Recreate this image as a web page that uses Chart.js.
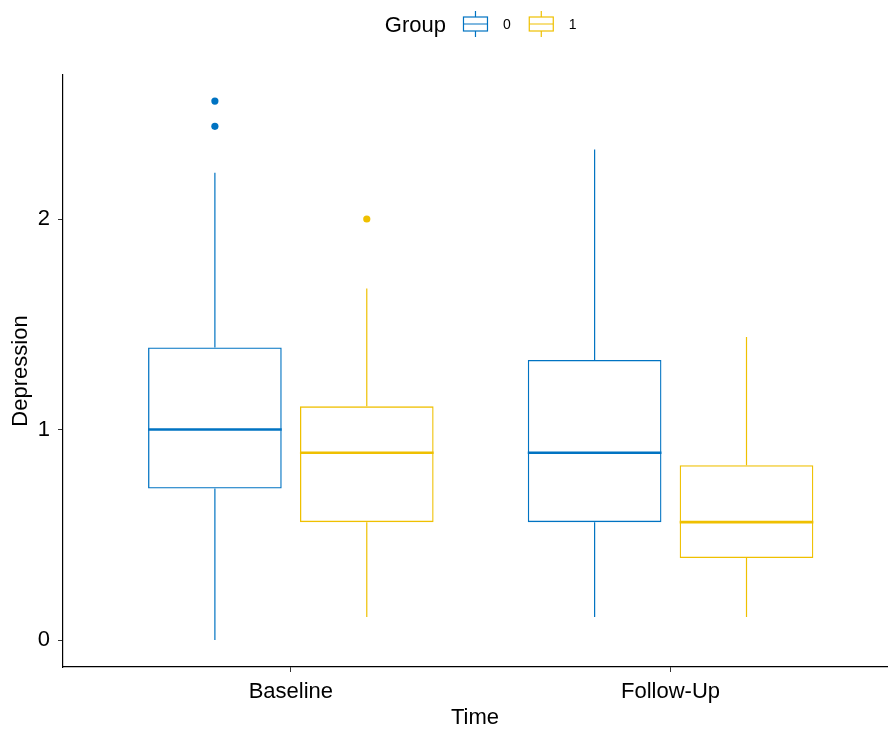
<!DOCTYPE html>
<html>
<head>
<meta charset="utf-8">
<title>Depression by Time and Group</title>
<script src="https://cdn.jsdelivr.net/npm/chart.js@4.4.1/dist/chart.umd.min.js"></script>
<style>
  body { margin: 0; background: #fff; }
  canvas { display: block; }
</style>
</head>
<body>
<canvas id="myChart" width="891" height="729"></canvas>
<script>
// categories on the x axis and their positions (ggplot style discrete positions)
var timeLabels = ['Baseline', 'Follow-Up'];
var timePos = [1, 2];
var yTicks = [0, 1, 2];

var groupNames = ['0', '1'];
var groupColors = ['#0073C2', '#EFC000'];
var groupOffset = [-0.2, 0.2]; // dodge

// box stats per group, one value per time point
var g0Low = [0.00, 0.11];
var g0Q1 = [0.72, 0.56];
var g0Median = [1.00, 0.89];
var g0Q3 = [1.39, 1.33];
var g0High = [2.22, 2.33];
var g0Outliers = [[2.44, 2.56], []];

var g1Low = [0.11, 0.11];
var g1Q1 = [0.56, 0.39];
var g1Median = [0.89, 0.56];
var g1Q3 = [1.11, 0.83];
var g1High = [1.67, 1.44];
var g1Outliers = [[2.00], []];

var stats = [
    { low: g0Low, q1: g0Q1, med: g0Median, q3: g0Q3, high: g0High, out: g0Outliers },
    { low: g1Low, q1: g1Q1, med: g1Median, q3: g1Q3, high: g1High, out: g1Outliers }
];

var FONT = '"Liberation Sans", Arial, sans-serif';

function boxData(g) {
    return timePos.map(function (p, i) {
        return { x: p + groupOffset[g], y: [stats[g].q1[i], stats[g].q3[i]] };
    });
}

function outlierData(g) {
    var pts = [];
    timePos.forEach(function (p, i) {
        stats[g].out[i].forEach(function (v) {
            pts.push({ x: p + groupOffset[g], y: v });
        });
    });
    return pts;
}

// whiskers + median lines, positioned from the bar elements and the y scale
var boxExtras = {
    id: 'boxExtras',
    afterDatasetsDraw: function (chart) {
        var ctx = chart.ctx;
        var yScale = chart.scales.y;
        ctx.save();
        for (var g = 0; g < 2; g++) {
            var meta = chart.getDatasetMeta(g);
            meta.data.forEach(function (bar, i) {
                var props = bar.getProps(['x', 'width'], true);
                var s = stats[g];
                ctx.strokeStyle = groupColors[g];
                // whiskers
                ctx.lineWidth = 1.2;
                ctx.beginPath();
                ctx.moveTo(props.x, yScale.getPixelForValue(s.q3[i]));
                ctx.lineTo(props.x, yScale.getPixelForValue(s.high[i]));
                ctx.moveTo(props.x, yScale.getPixelForValue(s.q1[i]));
                ctx.lineTo(props.x, yScale.getPixelForValue(s.low[i]));
                ctx.stroke();
                // median
                ctx.lineWidth = 2.6;
                ctx.beginPath();
                var ym = yScale.getPixelForValue(s.med[i]);
                ctx.moveTo(props.x - props.width / 2, ym);
                ctx.lineTo(props.x + props.width / 2, ym);
                ctx.stroke();
            });
        }
        ctx.restore();
    }
};

// legend in a single row: "Group" then boxplot keys
var groupLegend = {
    id: 'groupLegend',
    afterDraw: function (chart) {
        var ctx = chart.ctx;
        var cy = 24;
        ctx.save();
        ctx.textBaseline = 'middle';
        ctx.font = '22px ' + FONT;
        var titleW = ctx.measureText('Group').width;
        ctx.font = '14px ' + FONT;
        var labW = groupNames.map(function (n) { return ctx.measureText(n).width; });
        var iconW = 25;
        var total = titleW + 17 + (iconW + 15 + labW[0]) + 18 + (iconW + 15 + labW[1]);
        var x = chart.scales.x.getPixelForValue(1.5) - total / 2;

        ctx.fillStyle = '#000';
        ctx.font = '22px ' + FONT;
        ctx.fillText('Group', x, cy + 2);
        x += titleW + 17;

        for (var g = 0; g < 2; g++) {
            var cx = x + iconW / 2;
            ctx.strokeStyle = groupColors[g];
            ctx.lineWidth = 1.2;
            ctx.strokeRect(x + 0.5, cy - 7, iconW - 1, 14);
            ctx.beginPath();
            ctx.moveTo(cx, cy - 13); ctx.lineTo(cx, cy - 7);
            ctx.moveTo(cx, cy + 7); ctx.lineTo(cx, cy + 13);
            ctx.moveTo(x + 0.5, cy); ctx.lineTo(x + iconW - 0.5, cy);
            ctx.stroke();
            x += iconW + 15;
            ctx.fillStyle = '#000';
            ctx.font = '14px ' + FONT;
            ctx.fillText(groupNames[g], x, cy + 1);
            x += labW[g] + 18;
        }
        ctx.restore();
    }
};

var datasets = [];
for (var g = 0; g < 2; g++) {
    datasets.push({
        type: 'bar',
        label: groupNames[g],
        data: boxData(g),
        backgroundColor: 'rgba(255,255,255,0)',
        borderColor: groupColors[g],
        borderWidth: 1.3,
        borderSkipped: false,
        grouped: false,
        categoryPercentage: 1,
        barPercentage: 0.88
    });
}
for (var g2 = 0; g2 < 2; g2++) {
    datasets.push({
        type: 'scatter',
        label: groupNames[g2] + ' outliers',
        data: outlierData(g2),
        backgroundColor: groupColors[g2],
        borderWidth: 0,
        pointRadius: 3.6
    });
}

var axisFont = { family: FONT, size: 22 };

new Chart(document.getElementById('myChart').getContext('2d'), {
    type: 'bar',
    data: { datasets: datasets },
    plugins: [boxExtras, groupLegend],
    options: {
        responsive: false,
        animation: false,
        layout: { padding: { top: 75, right: 1, bottom: 0, left: 0 } },
        plugins: {
            legend: { display: false },
            tooltip: { enabled: false }
        },
        scales: {
            x: {
                type: 'linear',
                offset: false,
                min: 0.4,
                max: 2.57,
                afterBuildTicks: function (scale) {
                    scale.ticks = timePos.map(function (v) { return { value: v }; });
                },
                afterFit: function (scale) { scale.height = 62; },
                ticks: {
                    callback: function (v) { return timeLabels[timePos.indexOf(v)]; },
                    font: axisFont,
                    color: '#000',
                    padding: 7,
                    maxRotation: 0,
                    autoSkip: false
                },
                grid: { offset: false, drawOnChartArea: false, drawTicks: true, tickLength: 5, color: '#333' },
                border: { display: true, color: '#000', width: 1.2 },
                title: { display: true, text: 'Time', font: { family: FONT, size: 22, lineHeight: 1 }, color: '#000', padding: { top: 0, bottom: 0 } }
            },
            y: {
                min: -0.128,
                max: 2.684,
                afterBuildTicks: function (scale) {
                    scale.ticks = yTicks.map(function (v) { return { value: v }; });
                },
                afterFit: function (scale) { scale.width = 63; },
                ticks: {
                    callback: function (v) { return String(v); },
                    font: axisFont,
                    color: '#000',
                    padding: 8
                },
                grid: { drawOnChartArea: false, drawTicks: true, tickLength: 5, color: '#333' },
                border: { display: true, color: '#000', width: 1.2 },
                title: { display: true, text: 'Depression', font: { family: FONT, size: 22, lineHeight: 1 }, color: '#000', padding: { top: 10, bottom: 0 } }
            }
        }
    }
});
</script>
</body>
</html>
